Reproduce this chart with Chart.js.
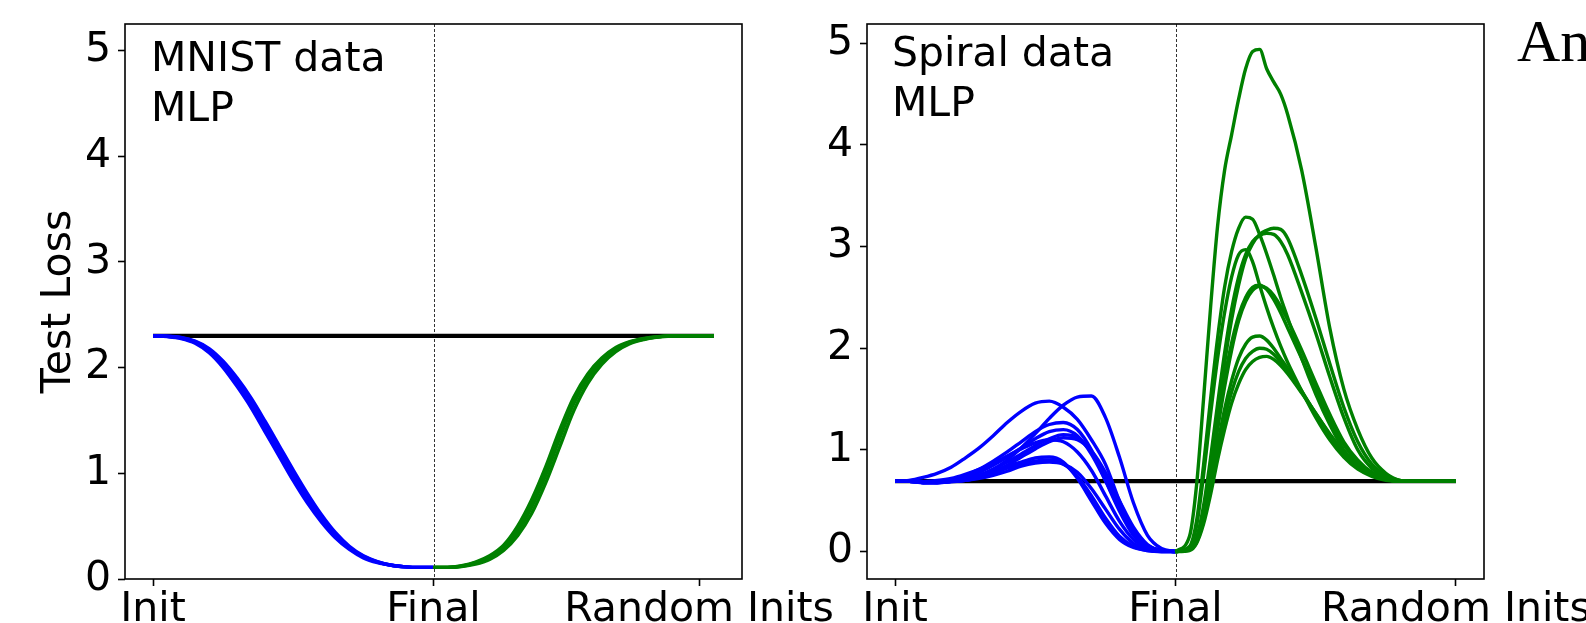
<!DOCTYPE html>
<html><head><meta charset="utf-8">
<script src="https://cdn.jsdelivr.net/npm/chart.js@4.4.1/dist/chart.umd.min.js"></script>
<style>
html,body{margin:0;padding:0;background:#fff;width:1586px;height:623px;overflow:hidden;position:relative}
canvas{position:absolute;top:0}
#c1{left:0}
#c2{left:790px}
.note{position:absolute;font-family:'DejaVu Sans';font-size:41px;line-height:50px;color:#000;white-space:nowrap}
#an{position:absolute;font-family:'Liberation Serif';font-size:60px;line-height:60px;left:1517px;top:11px;color:#000;white-space:nowrap}
</style></head><body>
<canvas id="c1" width="850" height="623"></canvas>
<canvas id="c2" width="796" height="623"></canvas>
<div class="note" style="left:151px;top:32px">MNIST data<br>MLP</div>
<div class="note" style="left:892px;top:27px">Spiral data<br>MLP</div>
<div id="an">An</div>
<script>
// ---------- tick labels / positions ----------
const X_TICK_LABELS = ['Init', 'Final', 'Random Inits'];
const X_TICKS_MNIST = [0, 1, 1.947];
const X_TICKS_SPIRAL = [0, 1, 2];
const Y_TICKS = [0, 1, 2, 3, 4, 5];
const FINAL_X = 1;

// ---------- x grids ----------
const xFirst = [0,0.05,0.1,0.15,0.2,0.25,0.3,0.35,0.4,0.45,0.5,0.55,0.6,0.65,0.7,0.75,0.8,0.85,0.9,0.95,1.0];
const xSecondMnist = [1.0,1.05,1.1,1.15,1.2,1.25,1.3,1.35,1.4,1.45,1.5,1.55,1.6,1.65,1.7,1.75,1.8,1.85,1.9,1.95,2.0];
const xSecondSpiral = [1.0,1.05,1.075,1.1,1.125,1.15,1.175,1.2,1.225,1.25,1.275,1.3,1.325,1.35,1.375,1.4,1.45,1.5,1.55,1.6,1.65,1.7,1.75,1.8,1.85,1.9,2.0];
const xBaseline = [0, 2];

// ---------- MNIST (left) ----------
const mnistBaseline = [2.30, 2.30];
const mnistBlue1 = [2.30,2.295,2.28,2.24,2.16,2.03,1.86,1.66,1.44,1.21,0.98,0.76,0.57,0.41,0.29,0.21,0.16,0.13,0.115,0.11,0.11];
const mnistBlue2 = [2.30,2.297,2.285,2.25,2.18,2.06,1.90,1.71,1.49,1.26,1.03,0.81,0.61,0.44,0.31,0.22,0.165,0.13,0.115,0.11,0.11];
const mnistBlue3 = [2.30,2.293,2.275,2.23,2.14,2.00,1.82,1.62,1.39,1.16,0.93,0.72,0.54,0.39,0.28,0.20,0.155,0.13,0.115,0.11,0.11];
const mnistBlue4 = [2.30,2.296,2.282,2.245,2.17,2.045,1.88,1.685,1.465,1.235,1.005,0.785,0.59,0.425,0.30,0.215,0.162,0.13,0.115,0.11,0.11];
const mnistGreen1 = [0.11,0.11,0.12,0.15,0.20,0.29,0.45,0.68,0.98,1.33,1.66,1.90,2.06,2.17,2.235,2.27,2.29,2.30,2.30,2.30,2.30];
const mnistGreen2 = [0.11,0.11,0.125,0.16,0.22,0.32,0.50,0.75,1.06,1.41,1.72,1.94,2.09,2.19,2.245,2.275,2.292,2.30,2.30,2.30,2.30];
const mnistGreen3 = [0.11,0.11,0.118,0.14,0.185,0.27,0.41,0.62,0.91,1.25,1.59,1.85,2.03,2.15,2.225,2.265,2.288,2.298,2.30,2.30,2.30];
const mnistGreen4 = [0.11,0.11,0.122,0.155,0.21,0.305,0.475,0.715,1.02,1.37,1.69,1.92,2.075,2.18,2.24,2.272,2.291,2.30,2.30,2.30,2.30];

// ---------- Spiral (right) ----------
const spiralBaseline = [0.693, 0.693];
const spiralBlue1 = [0.69,0.69,0.685,0.685,0.69,0.71,0.75,0.81,0.90,1.02,1.16,1.31,1.44,1.52,1.53,1.32,0.93,0.48,0.16,0.03,0.0];
const spiralBlue2 = [0.69,0.70,0.73,0.77,0.83,0.92,1.02,1.14,1.27,1.38,1.46,1.48,1.42,1.30,1.10,0.86,0.50,0.20,0.06,0.01,0.0];
const spiralBlue3 = [0.69,0.69,0.685,0.69,0.71,0.75,0.81,0.89,0.98,1.08,1.18,1.25,1.27,1.20,1.00,0.70,0.40,0.16,0.04,0.01,0.0];
const spiralBlue4 = [0.69,0.69,0.68,0.685,0.70,0.73,0.78,0.85,0.93,1.02,1.11,1.18,1.20,1.14,0.96,0.70,0.42,0.18,0.05,0.01,0.0];
const spiralBlue5 = [0.69,0.69,0.675,0.675,0.69,0.71,0.75,0.81,0.88,0.96,1.04,1.11,1.15,1.12,0.98,0.74,0.46,0.20,0.06,0.01,0.0];
const spiralBlue6 = [0.69,0.69,0.68,0.68,0.69,0.70,0.73,0.78,0.85,0.93,1.01,1.08,1.12,1.10,0.99,0.78,0.50,0.24,0.07,0.01,0.0];
const spiralBlue7 = [0.69,0.69,0.685,0.69,0.70,0.72,0.75,0.79,0.84,0.88,0.92,0.93,0.88,0.72,0.50,0.28,0.12,0.04,0.01,0.0,0.0];
const spiralBlue8 = [0.69,0.69,0.68,0.68,0.69,0.70,0.73,0.77,0.82,0.86,0.89,0.90,0.86,0.74,0.55,0.33,0.15,0.05,0.01,0.0,0.0];
const spiralBlue9 = [0.69,0.69,0.685,0.68,0.685,0.70,0.72,0.75,0.79,0.84,0.87,0.88,0.86,0.78,0.62,0.42,0.22,0.08,0.02,0.0,0.0];
const spiralBlue10 = [0.69,0.69,0.69,0.70,0.72,0.76,0.81,0.87,0.94,1.01,1.07,1.10,1.08,0.98,0.80,0.55,0.30,0.12,0.03,0.01,0.0];

const spiralGreen1 = [0,0.15,0.65,1.5,2.4,3.2,3.75,4.1,4.45,4.75,4.92,4.94,4.75,4.62,4.5,4.3,3.75,3.0,2.2,1.6,1.2,0.92,0.77,0.70,0.69,0.69,0.69];
const spiralGreen2 = [0,0.05,0.3,0.85,1.5,2.1,2.6,2.95,3.18,3.29,3.27,3.12,2.93,2.72,2.5,2.3,1.9,1.55,1.25,1.0,0.85,0.76,0.71,0.695,0.69,0.69,0.69];
const spiralGreen3 = [0,0.04,0.25,0.75,1.35,1.9,2.35,2.7,2.92,2.97,2.85,2.62,2.4,2.2,2.02,1.86,1.58,1.32,1.1,0.93,0.81,0.74,0.70,0.69,0.69,0.69,0.69];
const spiralGreen4 = [0,0.02,0.12,0.4,0.85,1.35,1.85,2.28,2.62,2.88,3.03,3.12,3.16,3.18,3.17,3.08,2.72,2.3,1.85,1.42,1.08,0.86,0.75,0.70,0.69,0.69,0.69];
const spiralGreen5 = [0,0.02,0.13,0.45,0.92,1.45,1.95,2.38,2.7,2.92,3.05,3.11,3.13,3.12,3.05,2.92,2.55,2.15,1.72,1.32,1.0,0.82,0.73,0.695,0.69,0.69,0.69];
const spiralGreen6 = [0,0.02,0.12,0.4,0.82,1.28,1.7,2.05,2.32,2.5,2.6,2.62,2.58,2.48,2.35,2.2,1.9,1.6,1.3,1.05,0.88,0.77,0.71,0.69,0.69,0.69,0.69];
const spiralGreen7 = [0,0.02,0.1,0.36,0.76,1.2,1.62,1.98,2.27,2.46,2.57,2.61,2.59,2.52,2.41,2.28,1.98,1.66,1.35,1.08,0.9,0.78,0.72,0.69,0.69,0.69,0.69];
const spiralGreen8 = [0,0.02,0.1,0.33,0.68,1.05,1.4,1.68,1.9,2.04,2.11,2.12,2.08,2.0,1.9,1.8,1.58,1.35,1.14,0.96,0.83,0.75,0.71,0.69,0.69,0.69,0.69];
const spiralGreen9 = [0,0.02,0.09,0.3,0.62,0.97,1.3,1.57,1.77,1.9,1.97,2.0,1.99,1.94,1.86,1.77,1.57,1.36,1.15,0.97,0.84,0.76,0.71,0.69,0.69,0.69,0.69];
const spiralGreen10 = [0,0.01,0.08,0.27,0.56,0.9,1.2,1.46,1.65,1.79,1.87,1.91,1.92,1.89,1.83,1.75,1.56,1.36,1.16,0.98,0.85,0.77,0.72,0.69,0.69,0.69,0.69];

// ---------- colours ----------
const BLUE = '#0000ff', GREEN = '#008000', BLACK = '#000000';

Chart.defaults.font.family = "'DejaVu Sans'";
Chart.defaults.color = '#000';

function line(xs, ys, color, width, order) {
  return {
    data: xs.map((x, i) => ({x: x, y: ys[i]})),
    borderColor: color, backgroundColor: color, borderWidth: width,
    pointRadius: 0, pointHoverRadius: 0, fill: false, order: order,
    cubicInterpolationMode: 'monotone', borderJoinStyle: 'round'
  };
}

const framePlugin = {
  id: 'frame',
  beforeDatasetsDraw(chart) {
    const {ctx, chartArea: a, scales: {x}} = chart;
    const px = Math.round(x.getPixelForValue(FINAL_X)) + 0.5;
    ctx.save();
    ctx.strokeStyle = '#333';
    ctx.lineWidth = 1;
    ctx.setLineDash([3, 2]);
    ctx.beginPath(); ctx.moveTo(px, a.top); ctx.lineTo(px, a.bottom); ctx.stroke();
    ctx.restore();
  },
  afterDatasetsDraw(chart) {
    const {ctx, chartArea: a} = chart;
    ctx.save();
    ctx.strokeStyle = '#000';
    ctx.lineWidth = 1.6;
    ctx.strokeRect(a.left, a.top, a.right - a.left, a.bottom - a.top);
    ctx.restore();
  }
};

function options(o) {
  return {
    responsive: false, animation: false, devicePixelRatio: 1,
    layout: {padding: {top: 24, right: o.padRight, bottom: 0, left: 0}},
    plugins: {legend: {display: false}, tooltip: {enabled: false}},
    scales: {
      x: {
        type: 'linear', min: o.xMin, max: o.xMax,
        afterBuildTicks(s) { s.ticks = o.xTicks.map(v => ({value: v})); },
        afterFit(s) { s.height = 44; s.paddingLeft = 0; s.paddingRight = 0; s.paddingTop = 0; s.paddingBottom = 0; },
        ticks: {autoSkip: false, maxRotation: 0, minRotation: 0, padding: 0, font: {size: 41}, color: '#000',
                callback: (v, i) => X_TICK_LABELS[i]},
        grid: {drawOnChartArea: false, drawTicks: true, tickLength: 7, tickColor: '#000', tickWidth: 1.6},
        border: {display: false}
      },
      y: {
        type: 'linear', min: o.yMin, max: o.yMax,
        afterBuildTicks(s) { s.ticks = Y_TICKS.map(v => ({value: v})); },
        afterFit(s) { s.width = o.yWidth; s.paddingLeft = 0; s.paddingRight = 0; s.paddingTop = 0; s.paddingBottom = 0; },
        ticks: {padding: 7, font: {size: 41}, color: '#000', callback: v => String(v)},
        grid: {drawOnChartArea: false, drawTicks: true, tickLength: 7, tickColor: '#000', tickWidth: 1.6},
        border: {display: false},
        title: o.yTitle ? {display: true, text: o.yTitle, font: {size: 41}, color: '#000', padding: {top: 35, bottom: 0}} : {display: false}
      }
    }
  };
}

// MNIST chart
const mnistBlues = [mnistBlue1, mnistBlue2, mnistBlue3, mnistBlue4];
const mnistGreens = [mnistGreen1, mnistGreen2, mnistGreen3, mnistGreen4];
new Chart(document.getElementById('c1'), {
  type: 'line',
  data: {datasets: [
    line(xBaseline, mnistBaseline, BLACK, 4.2, 3),
    ...mnistBlues.map(ys => line(xFirst, ys, BLUE, 3.4, 2)),
    ...mnistGreens.map(ys => line(xSecondMnist, ys, GREEN, 3.4, 1))
  ]},
  options: options({xMin: -0.1, xMax: 2.1, yMin: 0, yMax: 5.25, xTicks: X_TICKS_MNIST, yWidth: 125, padRight: 108, yTitle: 'Test Loss'}),
  plugins: [framePlugin]
});

// Spiral chart
const spiralBlues = [spiralBlue1, spiralBlue2, spiralBlue3, spiralBlue4, spiralBlue5, spiralBlue6, spiralBlue7, spiralBlue8, spiralBlue9, spiralBlue10];
const spiralGreens = [spiralGreen1, spiralGreen2, spiralGreen3, spiralGreen4, spiralGreen5, spiralGreen6, spiralGreen7, spiralGreen8, spiralGreen9, spiralGreen10];
new Chart(document.getElementById('c2'), {
  type: 'line',
  data: {datasets: [
    line(xBaseline, spiralBaseline, BLACK, 4.2, 3),
    ...spiralBlues.map(ys => line(xFirst, ys, BLUE, 3.4, 2)),
    ...spiralGreens.map(ys => line(xSecondSpiral, ys, GREEN, 3.4, 1))
  ]},
  options: options({xMin: -0.1, xMax: 2.1, yMin: -0.27, yMax: 5.19, xTicks: X_TICKS_SPIRAL, yWidth: 77, padRight: 102, yTitle: null}),
  plugins: [framePlugin]
});
</script>
</body></html>
